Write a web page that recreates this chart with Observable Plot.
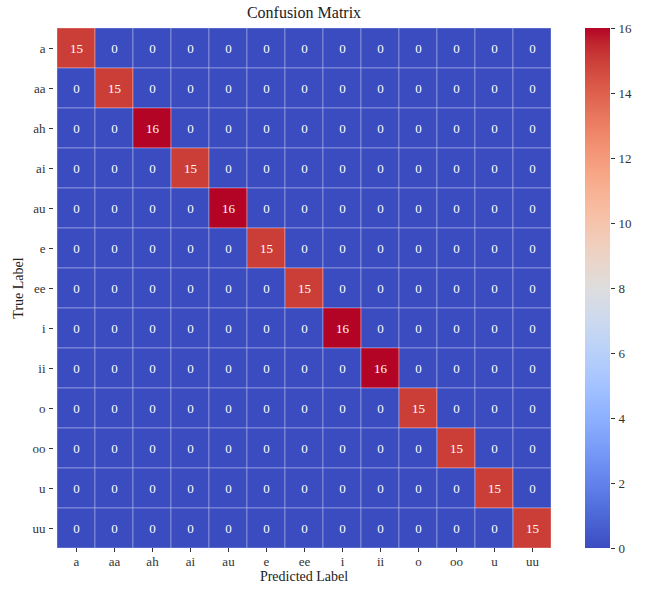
<!DOCTYPE html>
<html>
<head>
<meta charset="utf-8">
<script src="https://cdn.jsdelivr.net/npm/d3@7"></script>
<script src="https://cdn.jsdelivr.net/npm/@observablehq/plot@0.6"></script>
<style>
  body { margin: 0; background: #fff; }
  #wrap { position: relative; width: 645px; height: 590px; font-family: "Liberation Serif", "DejaVu Serif", serif; color: #222; }
  #title { position: absolute; top: 4px; left: 53px; width: 502px; text-align: center; font-size: 16px; }
  #xlabel { position: absolute; top: 569px; left: 53px; width: 502px; text-align: center; font-size: 14px; line-height: 16px; }
  #ylabel { position: absolute; left: 19px; top: 288px; font-size: 14px; line-height: 16px; white-space: nowrap; transform: translate(-50%, -50%) rotate(-90deg); }
  #main { position: absolute; left: 0; top: 0; }
  #cbar { position: absolute; left: 570px; top: 0; }
</style>
</head>
<body>
<div id="wrap">
  <div id="main"></div>
  <div id="cbar"></div>
  <div id="title">Confusion Matrix</div>
  <div id="xlabel">Predicted Label</div>
  <div id="ylabel">True Label</div>
</div>
<script>
const labels = ["a", "aa", "ah", "ai", "au", "e", "ee", "i", "ii", "o", "oo", "u", "uu"];
const correct = [15, 15, 16, 15, 16, 15, 15, 16, 16, 15, 15, 15, 15];
const colorTicks = [0, 2, 4, 6, 8, 10, 12, 14, 16];

// matplotlib "coolwarm" anchor colours
const coolwarmAnchors = [
  "rgb(59,76,192)", "rgb(68,90,204)", "rgb(77,104,215)", "rgb(87,117,225)", "rgb(98,130,234)",
  "rgb(108,142,241)", "rgb(119,154,247)", "rgb(130,165,251)", "rgb(141,176,254)", "rgb(152,185,255)",
  "rgb(163,194,255)", "rgb(174,201,253)", "rgb(184,208,249)", "rgb(194,213,244)", "rgb(204,217,238)",
  "rgb(213,219,230)", "rgb(221,221,221)", "rgb(229,216,209)", "rgb(236,211,197)", "rgb(241,204,184)",
  "rgb(245,196,172)", "rgb(247,187,159)", "rgb(247,177,147)", "rgb(247,166,134)", "rgb(244,154,123)",
  "rgb(241,141,111)", "rgb(236,127,99)", "rgb(229,112,89)", "rgb(222,96,77)", "rgb(213,80,66)",
  "rgb(203,62,56)", "rgb(192,40,47)", "rgb(180,4,38)"
];
const coolwarm = d3.piecewise(d3.interpolateRgb, coolwarmAnchors);

const cells = labels.flatMap((t, i) => labels.map((p, j) => ({
  trueLabel: t, predLabel: p, value: i === j ? correct[i] : 0
})));

const font = { fontFamily: "'Liberation Serif', 'DejaVu Serif', serif", fontSize: "13px", color: "#333", background: "transparent", overflow: "visible" };

const main = Plot.plot({
  width: 560, height: 590,
  marginTop: 28, marginLeft: 53, marginRight: 5, marginBottom: 42,
  style: font,
  x: { domain: labels, padding: 0 },
  y: { domain: labels, padding: 0 },
  color: { type: "linear", domain: [0, 16], interpolate: coolwarm },
  marks: [
    Plot.cell(cells, { x: "predLabel", y: "trueLabel", fill: "value", stroke: "white", strokeWidth: 0.7, strokeOpacity: 0.45 }),
    Plot.text(cells, { x: "predLabel", y: "trueLabel", text: "value", fill: "white", fontSize: 13 }),
    Plot.axisX({ tickSize: 4, tickPadding: 4, label: null, fontSize: 13 }),
    Plot.axisY({ tickSize: 4, tickPadding: 4, label: null, fontSize: 13 })
  ]
});
document.getElementById("main").appendChild(main);

const cs = main.scale("color");
const cbar = Plot.plot({
  width: 75, height: 590,
  marginTop: 28, marginBottom: 42, marginLeft: 15, marginRight: 35,
  style: font,
  x: { domain: [0, 1], axis: null },
  y: { domain: [0, 16], ticks: colorTicks },
  marks: [
    Plot.rect([{ lo: 0, hi: 16 }], { x1: 0, x2: 1, y1: "lo", y2: "hi", fill: "url(#cbgrad)" }),
    Plot.axisY({ anchor: "right", ticks: colorTicks, tickSize: 4, tickPadding: 4, label: null, fontSize: 13 })
  ]
});
const ns = "http://www.w3.org/2000/svg";
const defs = document.createElementNS(ns, "defs");
const grad = document.createElementNS(ns, "linearGradient");
grad.setAttribute("id", "cbgrad");
grad.setAttribute("x1", "0"); grad.setAttribute("y1", "1");
grad.setAttribute("x2", "0"); grad.setAttribute("y2", "0");
for (let v = 0; v <= 16; v += 0.25) {
  const s = document.createElementNS(ns, "stop");
  s.setAttribute("offset", String(v / 16));
  s.setAttribute("stop-color", cs.apply(v));
  grad.appendChild(s);
}
defs.appendChild(grad);
cbar.insertBefore(defs, cbar.firstChild);
document.getElementById("cbar").appendChild(cbar);
</script>
</body>
</html>
